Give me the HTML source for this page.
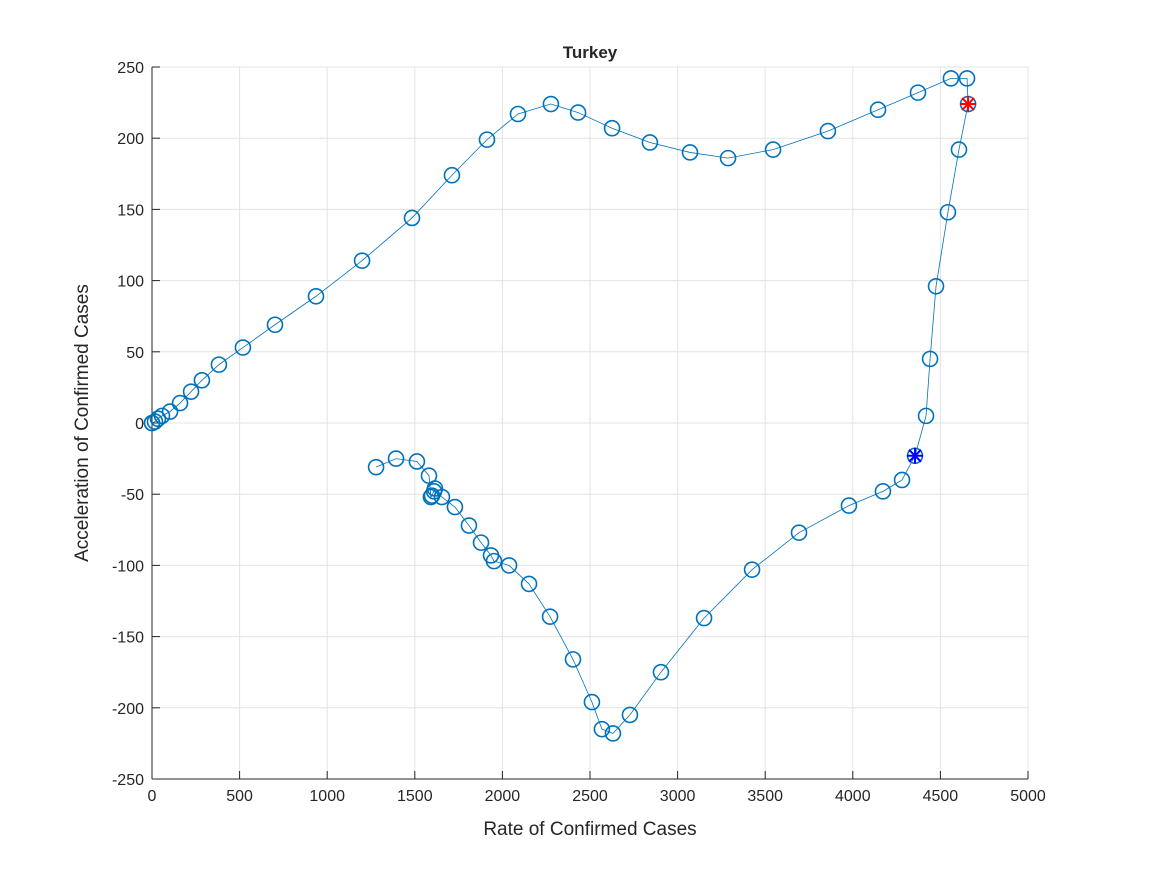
<!DOCTYPE html>
<html><head><meta charset="utf-8"><style>
body{margin:0;background:#fff;}
svg text{font-family:"Liberation Sans",Arial,sans-serif;fill:#262626;}
</style></head><body>
<svg id="chart" width="1167" height="875">
<rect x="0" y="0" width="1167" height="875" fill="#fff"/>
<g id="grid"></g>
<g id="axes"></g>
<g id="series"></g>
<text x="590" y="58" text-anchor="middle" font-size="17" font-weight="bold" fill="#000">Turkey</text>
<text x="590" y="835" text-anchor="middle" font-size="19">Rate of Confirmed Cases</text>
<text transform="translate(88,423) rotate(-90)" text-anchor="middle" font-size="19">Acceleration of Confirmed Cases</text>
</svg>
<script>
const xTicks=[0,500,1000,1500,2000,2500,3000,3500,4000,4500,5000];
const yTicks=[-250,-200,-150,-100,-50,0,50,100,150,200,250];
const xVals=[0,0,17,34,57,103,160,223,285,382,519,702,936,1199,1484,1712,1912,2089,2277,2432,2626,2842,3071,3288,3545,3858,4144,4372,4560,4652,4658,4606,4543,4475,4441,4418,4355,4281,4172,3978,3693,3425,3151,2905,2728,2631,2568,2511,2403,2272,2152,2038,1952,1935,1878,1809,1729,1655,1610,1615,1598,1592,1581,1512,1393,1279];
const yVals=[0,0,1,3,5,8,14,22,30,41,53,69,89,114,144,174,199,217,224,218,207,197,190,186,192,205,220,232,242,242,224,192,148,96,45,5,-23,-40,-48,-58,-77,-103,-137,-175,-205,-218,-215,-196,-166,-136,-113,-100,-97,-93,-84,-72,-59,-52,-48,-46,-51,-52,-37,-27,-25,-31];
const redIdx=30, blueIdx=36;
const L=152,R=1028,T=67,B=779;
const sx=v=>L+(v-0)/(5000)*(R-L);
const sy=v=>B-(v+250)/500*(B-T);
const NS="http://www.w3.org/2000/svg";
function mk(tag,attrs,parent){const e=document.createElementNS(NS,tag);for(const k in attrs)e.setAttribute(k,attrs[k]);parent.appendChild(e);return e;}
const grid=document.getElementById('grid'),axes=document.getElementById('axes'),ser=document.getElementById('series');
xTicks.forEach(t=>{const x=sx(t);
 const g=mk('line',{x1:x,x2:x,y1:T,y2:B,stroke:'#e3e3e3','stroke-width':1},grid);
 
 
 const tk=mk('line',{x1:x,x2:x,y1:B,y2:B-8,stroke:'#262626','stroke-width':1},axes);
 
 
 const lb=mk('text',{x:x,y:B+22,'text-anchor':'middle','font-size':16},axes);lb.textContent=t;
 
 
});
yTicks.forEach(t=>{const y=sy(t);
 const g=mk('line',{x1:L,x2:R,y1:y,y2:y,stroke:'#e3e3e3','stroke-width':1},grid);
 
 
 const tk=mk('line',{x1:L,x2:L+8,y1:y,y2:y,stroke:'#262626','stroke-width':1},axes);
 
 
 const lb=mk('text',{x:L-8,y:y+6,'text-anchor':'end','font-size':16},axes);lb.textContent=t;
 
 
});
const xa=mk('line',{x1:L,x2:R,y1:B,y2:B,stroke:'#262626','stroke-width':1},axes);


const ya=mk('line',{x1:L,x2:L,y1:T,y2:B,stroke:'#262626','stroke-width':1},axes);


const pts=xVals.map((v,i)=>sx(v)+','+sy(yVals[i])).join(' ');
const pl=mk('polyline',{points:pts,fill:'none',stroke:'#0072BD','stroke-width':0.8},ser);


xVals.forEach((v,i)=>{
 const c=mk('circle',{cx:sx(v),cy:sy(yVals[i]),r:7.5,fill:'none',stroke:'#0072BD','stroke-width':1.6},ser);
 
 
});
function star(i,col,name){const x=sx(xVals[i]),y=sy(yVals[i]);const g=mk('g',{stroke:col,'stroke-width':2},ser);
 
 
 const s=8;
 mk('line',{x1:x-s,x2:x+s,y1:y,y2:y},g);mk('line',{x1:x,x2:x,y1:y-s,y2:y+s},g);
 mk('line',{x1:x-6,x2:x+6,y1:y-6,y2:y+6},g);mk('line',{x1:x-6,x2:x+6,y1:y+6,y2:y-6},g);}
star(redIdx,'#ff0000','red-star-marker');
star(blueIdx,'#0000ff','blue-star-marker');
</script>
</body></html>
